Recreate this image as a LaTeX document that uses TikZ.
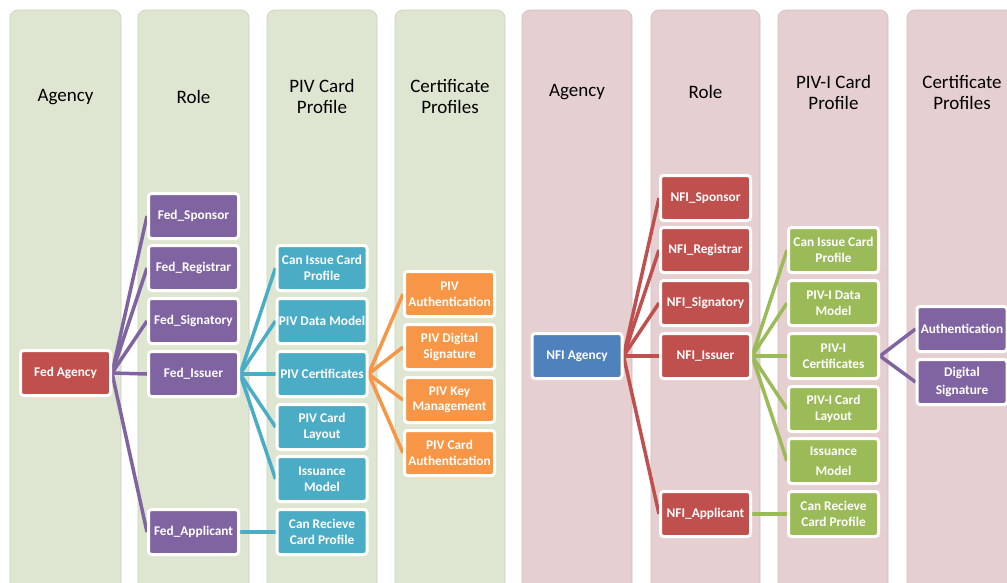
\documentclass[tikz,border=0pt]{standalone}
\usepackage{fontspec}
\setmainfont{Carlito}
\usetikzlibrary{backgrounds}
\definecolor{colG}{HTML}{DEE6D1}
\definecolor{colGe}{HTML}{C9D1BC}
\definecolor{colP}{HTML}{E6CFD1}
\definecolor{colPe}{HTML}{D2BBBD}
\definecolor{cPurple}{HTML}{8064A2}
\definecolor{cRed}{HTML}{C0504D}
\definecolor{cTeal}{HTML}{4BACC6}
\definecolor{cOrange}{HTML}{F79646}
\definecolor{cBlue}{HTML}{4F81BD}
\definecolor{cGreen}{HTML}{9BBB59}
\pgfdeclarelayer{edges}
\pgfsetlayers{background,edges,main}
\tikzset{
  lane/.style={rounded corners=8pt, line width=0.6pt},
  hdr/.style={align=center, font=\fontsize{19}{21}\selectfont, text=black},
  box/.style={draw=white, line width=3pt, rounded corners=3pt, minimum width=90pt, minimum height=45pt,
    inner sep=0pt, align=center, text=white, font=\bfseries\fontsize{13.3}{15.5}\selectfont},
  link/.style={line width=3.5pt}
}
\begin{document}
\begin{tikzpicture}[x=1pt,y=-1pt]
\useasboundingbox (0,0) rectangle (1007,582);
\clip (0,0) rectangle (1007,582);
% headers
\node[hdr] (h1) at (65.5,97) {Agency};
\node[hdr] (h2) at (193.5,97) {Role};
\node[hdr] (h3) at (322,96) {PIV Card\\Profile};
\node[hdr] (h4) at (450,96) {Certificate\\Profiles};
\node[hdr] (h5) at (577,92) {Agency};
\node[hdr] (h6) at (705.5,92) {Role};
\node[hdr] (h7) at (833.5,92) {PIV-I Card\\Profile};
\node[hdr] (h8) at (962,92) {Certificate\\Profiles};
% ---------- left panel nodes ----------
\node[box, fill=cRed] (fa) at (65.5,373) {Fed Agency};
\node[box, fill=cPurple] (fsp) at (193.5,216) {Fed\_Sponsor};
\node[box, fill=cPurple] (frg) at (193.5,268) {Fed\_Registrar};
\node[box, fill=cPurple] (fsg) at (193.5,321) {Fed\_Signatory};
\node[box, fill=cPurple] (fis) at (193.5,374) {Fed\_Issuer};
\node[box, fill=cPurple] (fap) at (193.5,532) {Fed\_Applicant};
\node[box, fill=cTeal] (pci) at (322,268) {Can Issue Card\\Profile};
\node[box, fill=cTeal] (pdm) at (322,321) {PIV Data Model};
\node[box, fill=cTeal] (pce) at (322,374) {PIV Certificates};
\node[box, fill=cTeal] (pcl) at (322,427) {PIV Card\\Layout};
\node[box, fill=cTeal] (pim) at (322,479) {Issuance\\Model};
\node[box, fill=cTeal] (pcr) at (322,532) {Can Recieve\\Card Profile};
\node[box, fill=cOrange] (cau) at (449.5,294) {PIV\\Authentication};
\node[box, fill=cOrange] (cds) at (449.5,347) {PIV Digital\\Signature};
\node[box, fill=cOrange] (ckm) at (449.5,400) {PIV Key\\Management};
\node[box, fill=cOrange] (cca) at (449.5,453) {PIV Card\\Authentication};
% ---------- right panel nodes ----------
\node[box, fill=cBlue] (na) at (577,356) {NFI Agency};
\node[box, fill=cRed] (nsp) at (705.5,198) {NFI\_Sponsor};
\node[box, fill=cRed] (nrg) at (705.5,250) {NFI\_Registrar};
\node[box, fill=cRed] (nsg) at (705.5,303) {NFI\_Signatory};
\node[box, fill=cRed] (nis) at (705.5,356) {NFI\_Issuer};
\node[box, fill=cRed] (nap) at (705.5,514) {NFI\_Applicant};
\node[box, fill=cGreen] (ici) at (833.5,250) {Can Issue Card\\Profile};
\node[box, fill=cGreen] (idm) at (833.5,303) {PIV-I Data\\Model};
\node[box, fill=cGreen] (ice) at (833.5,356) {PIV-I\\Certificates};
\node[box, fill=cGreen] (icl) at (833.5,409) {PIV-I Card\\Layout};
\node[box, fill=cGreen] (iim) at (833.5,461) {Issuance\\[4pt]Model};
\node[box, fill=cGreen] (icr) at (833.5,514) {Can Recieve\\Card Profile};
\node[box, fill=cPurple] (rau) at (962,329) {Authentication};
\node[box, fill=cPurple] (rds) at (962,382) {Digital\\[3pt]Signature};
% ---------- lanes ----------
\begin{pgfonlayer}{background}
\filldraw[lane, fill=colG, draw=colGe] (10,10) rectangle (121,600);
\filldraw[lane, fill=colG, draw=colGe] (138,10) rectangle (249,600);
\filldraw[lane, fill=colG, draw=colGe] (267,10) rectangle (377,600);
\filldraw[lane, fill=colG, draw=colGe] (395,10) rectangle (505,600);
\filldraw[lane, fill=colP, draw=colPe] (522,10) rectangle (632,600);
\filldraw[lane, fill=colP, draw=colPe] (651,10) rectangle (760,600);
\filldraw[lane, fill=colP, draw=colPe] (778,10) rectangle (888,600);
\filldraw[lane, fill=colP, draw=colPe] (907,10) rectangle (1020,600);
\end{pgfonlayer}
% ---------- connectors ----------
\begin{pgfonlayer}{edges}
\foreach \t in {fsp,frg,fsg,fis,fap} \draw[link, cPurple] (fa.east) -- (\t.west);
\foreach \t in {pci,pdm,pce,pcl,pim} \draw[link, cTeal] (fis.east) -- (\t.west);
\draw[link, cTeal] (fap.east) -- (pcr.west);
\foreach \t in {cau,cds,ckm,cca} \draw[link, cOrange] (pce.east) -- (\t.west);
\foreach \t in {nsp,nrg,nsg,nis,nap} \draw[link, cRed] (na.east) -- (\t.west);
\foreach \t in {ici,idm,ice,icl,iim} \draw[link, cGreen] (nis.east) -- (\t.west);
\draw[link, cGreen] (nap.east) -- (icr.west);
\foreach \t in {rau,rds} \draw[link, cPurple] (ice.east) -- (\t.west);
\end{pgfonlayer}
\end{tikzpicture}
\end{document}
